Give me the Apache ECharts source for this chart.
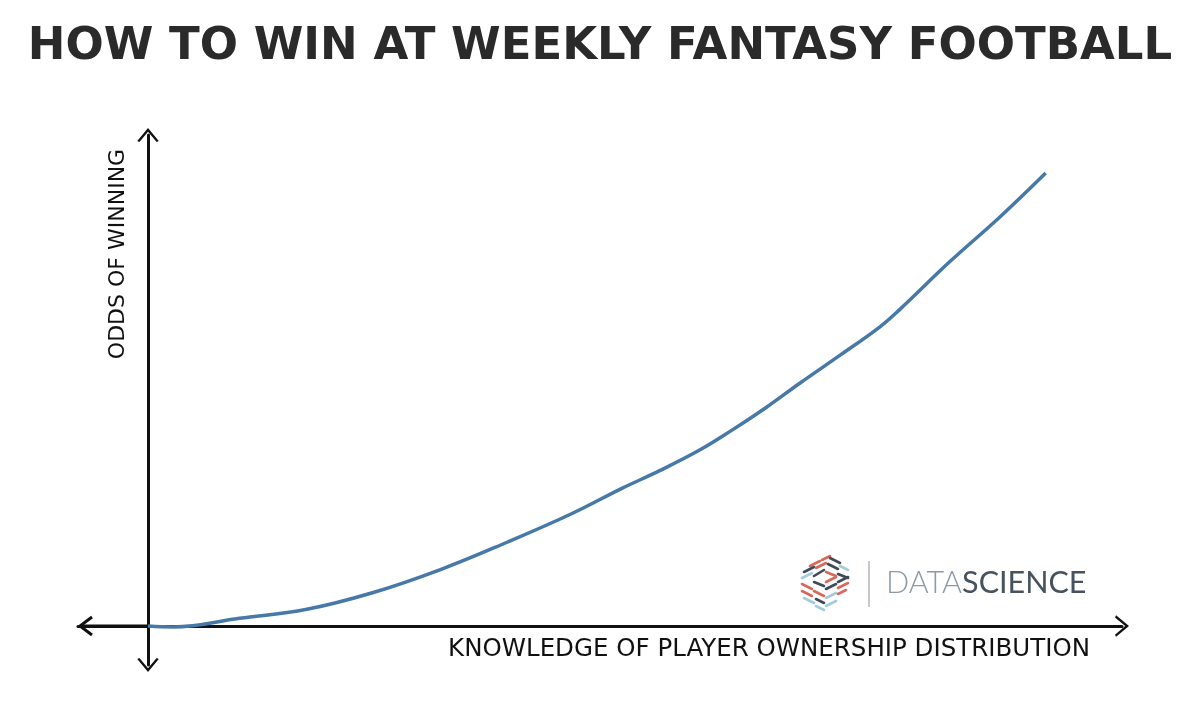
<!DOCTYPE html>
<html>
<head>
<meta charset="utf-8">
<script src="https://cdn.jsdelivr.net/npm/echarts@6/dist/echarts.min.js"></script>
<style>html,body{margin:0;padding:0;background:#fff}#c{width:1200px;height:706px}</style>
</head>
<body>
<div id="c"></div>
<script>
const titleText = 'HOW TO WIN AT WEEKLY FANTASY FOOTBALL';
const xAxisLabel = 'KNOWLEDGE OF PLAYER OWNERSHIP DISTRIBUTION';
const yAxisLabel = 'ODDS OF WINNING';
const knowledge = [0, 0.28, 1.02, 1.77, 2.51, 3.25, 4.00, 4.73, 5.29, 5.70, 6.15, 6.51, 6.89, 7.26, 7.71, 8.15, 8.37, 8.93, 9.49, 10];
const odds =      [0, -0.02, 0.17, 0.37, 0.74, 1.24, 1.85, 2.49, 3.05, 3.43, 3.89, 4.33, 4.83, 5.36, 5.98, 6.60, 6.98, 8.04, 9.03, 10];

const chevron = 'path://M0,12 L10,0 L20,12 L18,13 L10,3.5 L2,13 Z';
const chart = echarts.init(document.getElementById('c'));
const font = 'DejaVu Sans';

// logo icon dashes (decoration)
const red = '#d8695a', dark = '#3e4a57', light = '#a3cbd9';
const dashes = [
  [10,10,20,5,red],[22,4,30,0,red],[30,2,40,7,dark],
  [4,16,14,11,dark],[16,12,26,7,red],[28,8,38,13,dark],[40,10,48,14,light],
  [2,22,12,17,light],[14,20,24,14,dark],[26,16,36,20,red],[38,18,48,22,dark],
  [2,28,12,33,red],[14,26,24,30,dark],[26,26,36,21,red],[38,26,48,21,dark],
  [2,35,12,40,red],[14,35,24,40,red],[26,33,36,28,dark],[38,32,48,27,red],
  [4,42,14,47,light],[16,43,24,47,dark],[26,42,36,37,light],[38,38,46,34,red],
  [16,50,24,54,light],[26,50,36,45,light]
];
const iconChildren = dashes.map(d => ({
  type: 'line', shape: {x1: d[0], y1: d[1], x2: d[2], y2: d[3]},
  style: {stroke: d[4], lineWidth: 2.6, lineCap: 'round'}
}));

chart.setOption({
  backgroundColor: '#ffffff',
  animation: false,
  grid: {left: 78, right: 78, top: 135, bottom: 41},
  xAxis: {
    type: 'value', min: -0.78, max: 10.85,
    axisLine: {show: true, onZero: true, symbol: ['none', chevron], symbolSize: [22, 14],
      lineStyle: {color: '#111', width: 3}},
    axisTick: {show: false}, axisLabel: {show: false}, splitLine: {show: false}
  },
  yAxis: {
    type: 'value', min: -0.86, max: 10.84,
    axisLine: {show: true, onZero: true, symbol: [chevron, chevron], symbolSize: [22, 14],
      lineStyle: {color: '#111', width: 3}},
    axisTick: {show: false}, axisLabel: {show: false}, splitLine: {show: false}
  },
  series: [{
    type: 'line', smooth: 0.4, symbol: 'none',
    data: knowledge.map((x, i) => [x, odds[i]]),
    lineStyle: {color: '#4679a8', width: 3.5}
  }],
  graphic: [
    {type: 'text', left: 'center', top: 25,
      style: {text: titleText, font: 'bold 45px "' + font + '"', fill: '#2a2a2a'}},
    {type: 'text', x: 1090, y: 650,
      style: {text: xAxisLabel, font: '24.5px "' + font + '"', fill: '#111', align: 'right', verticalAlign: 'middle'}},
    {type: 'text', x: 118, y: 254, rotation: Math.PI / 2,
      style: {text: yAxisLabel, font: '22px "' + font + '"', fill: '#111', align: 'center', verticalAlign: 'middle'}},
    // the left arrow of the x axis
    {type: 'polyline', shape: {points: [[92, 617], [80, 626], [92, 635]]},
      style: {stroke: '#111', lineWidth: 3, fill: null}},
    {type: 'line', shape: {x1: 80, y1: 626, x2: 148, y2: 626}, style: {stroke: '#111', lineWidth: 3}},
    {type: 'group', x: 800, y: 556, children: iconChildren},
    {type: 'line', shape: {x1: 869, y1: 561, x2: 869, y2: 607}, style: {stroke: '#b5b5b5', lineWidth: 1.5}},
    {type: 'text', x: 886, y: 583,
      style: {text: '{a|DATA}{b|SCIENCE}', verticalAlign: 'middle',
        rich: {a: {font: '300 30.5px Lato', fill: '#8d9aa5'}, b: {font: '30.5px Lato', fill: '#46525e'}}}}
  ]
});
</script>
</body>
</html>
